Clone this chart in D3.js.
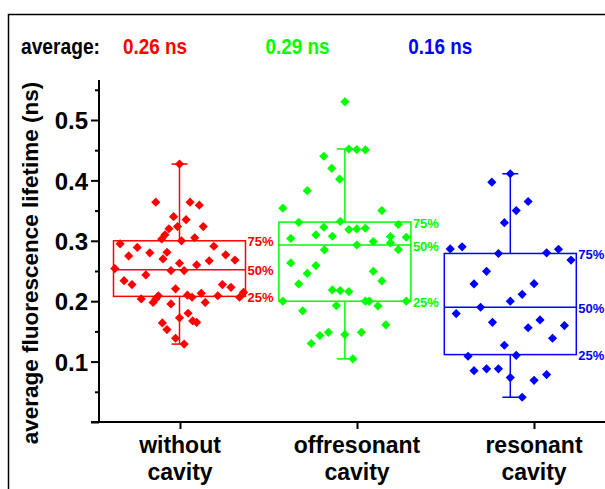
<!DOCTYPE html>
<meta charset="utf-8">
<style>
body { margin: 0; background: #fff; }
text { font-family: "Liberation Sans", Arial, sans-serif; font-weight: bold; }
</style>
<body>
<script src="https://d3js.org/d3.v7.min.js"></script>
<script>

// categories and summary values
var categories = ["without cavity", "offresonant cavity", "resonant cavity"];
var colors = ["#ff0000", "#00ff00", "#0000ff"];
var averages = ["0.26 ns", "0.29 ns", "0.16 ns"];
var q1 =     [0.208, 0.200, 0.1116];
var median = [0.252, 0.293, 0.190];
var q3 =     [0.300, 0.331, 0.279];
var wMin =   [0.129, 0.1045, 0.041];
var wMax =   [0.427, 0.452, 0.411];
var yTicks = [0.1, 0.2, 0.3, 0.4, 0.5];

// single measurements (ns) and their horizontal jitter (fraction of half box width)
var redVals = [0.427,0.364,0.364,0.359,0.340,0.335,0.3235,0.320,0.3235,0.310,0.303,0.305,0.300,0.295,0.289,0.291,
  0.275,0.280,0.281,0.270,0.2767,0.268,0.267,0.2628,0.260,0.254,0.2507,0.2507,0.234,0.2275,0.2435,0.2275,0.223,
  0.2204,0.2038,0.198,0.2038,0.209,0.1955,0.210,0.2065,0.213,0.198,0.209,0.2065,0.2147,0.180,0.1724,0.164,0.1674,
  0.165,0.153,0.1386,0.129];
var redJit = [0,-0.36,0.16,0.30,-0.09,0.10,-0.03,-0.16,0.36,-0.22,-0.27,0.23,0.03,-0.90,-0.64,0.52,
  -0.77,-0.45,-0.19,-0.25,0.70,0.84,0.45,0,0.26,-0.98,-0.13,0.07,-0.84,-0.72,-0.51,0.65,0.78,
  -0.06,-0.58,-0.40,-0.36,-0.32,-0.13,0.12,0.19,0.33,0.39,0.58,0.91,0.97,0.13,0,-0.26,0.20,
  0.26,-0.19,-0.06,0.07];

var greenVals = [0.530,0.452,0.451,0.4505,0.440,0.420,0.402,0.383,0.354,0.350,0.3306,0.332,0.327,0.3224,0.3185,
  0.3196,0.3207,0.304,0.3097,0.3075,0.2987,0.307,0.2965,0.3058,0.293,0.285,0.2854,0.2634,0.259,0.246,0.2286,0.2495,
  0.2336,0.2187,0.2175,0.2159,0.200,0.200,0.200,0.200,0.1927,0.1922,0.184,0.1608,0.1485,0.1485,0.143,0.1447,0.130,0.1045];
var greenJit = [0,0.06,0.18,0.31,-0.32,-0.20,-0.08,-0.57,-0.94,0.56,-0.70,-0.07,0.81,-0.32,0.06,
  0.18,0.31,-0.82,-0.44,-0.19,0.43,0.69,0.69,0.93,0.18,-0.31,0.81,-0.82,-0.44,-0.57,-0.70,0.43,
  0.56,-0.19,-0.07,0.06,-0.94,0.31,0.37,0.93,-0.13,0.50,-0.64,0.62,0.25,-0.25,-0.38,0,-0.51,0.12];

var blueVals = [0.411,0.397,0.365,0.350,0.330,0.2866,0.290,0.279,0.280,0.286,0.268,0.2495,0.2286,0.229,0.2114,
  0.200,0.190,0.1795,0.165,0.156,0.169,0.1596,0.1386,0.127,0.1088,0.1104,0.085,0.088,0.088,0.0735,0.069,0.0785,0.041];
var blueJit = [0,-0.28,0.27,0.09,-0.09,-0.91,-0.73,-0.18,0.55,0.73,0.92,-0.36,-0.55,0.36,0.18,
  0,-0.45,-0.82,-0.27,0.27,0.45,0.82,0.64,-0.09,-0.64,0.09,-0.55,-0.36,-0.18,0,0.36,0.55,0.18];

var pointVals = [redVals, greenVals, blueVals];
var pointJit = [redJit, greenJit, blueJit];

var width = 605, height = 489;
var boxHalf = 66;

var svg = d3.select("body").append("svg")
    .attr("width", width)
    .attr("height", height);

// outer frame (only top and left visible)
svg.append("path")
    .attr("d", "M8.5,489 V14.5 H605")
    .attr("fill", "none")
    .attr("stroke", "#000")
    .attr("stroke-width", 1.5);

// scales
var y = d3.scaleLinear().domain([0, 0.5662]).range([422, 80]);
var xTick = d3.scalePoint().domain(categories).range([180, 534]);
var xBox = d3.scalePoint().domain(categories).range([179.5, 510.3]);

// y axis: minor ticks then major ticks with labels
var yAxisG = svg.append("g").attr("transform", "translate(99,0)");
yAxisG.call(d3.axisLeft(y).tickValues(d3.range(0.05, 0.56, 0.1)).tickSize(4).tickFormat(""))
  .call(function(g) { g.select(".domain").remove(); });
var yMajor = svg.append("g").attr("transform", "translate(99,0)")
    .call(d3.axisLeft(y).tickValues([0].concat(yTicks)).tickSize(8).tickPadding(3)
      .tickFormat(function(d) { return d === 0 ? "" : d3.format(".1f")(d); }));
yMajor.select(".domain").remove();
yMajor.selectAll("text").attr("font-size", 24).attr("font-family", null).attr("dy", "0.36em");
svg.selectAll(".tick line").attr("stroke", "#000").attr("stroke-width", 2);

svg.append("line")
    .attr("x1", 99).attr("x2", 99)
    .attr("y1", y.range()[1]).attr("y2", y(0))
    .attr("stroke", "#000").attr("stroke-width", 2);

// x axis
svg.append("line")
    .attr("x1", 91).attr("x2", width)
    .attr("y1", y(0)).attr("y2", y(0))
    .attr("stroke", "#000").attr("stroke-width", 2);
var xAxisG = svg.append("g")
    .attr("transform", "translate(0," + y(0) + ")")
    .call(d3.axisBottom(xTick).tickSize(7).tickFormat(""));
xAxisG.select(".domain").remove();
xAxisG.selectAll(".tick line").attr("stroke", "#000").attr("stroke-width", 2);

categories.forEach(function(c) {
  var parts = c.split(" ");
  var t = svg.append("text")
      .attr("x", xTick(c))
      .attr("y", 453)
      .attr("text-anchor", "middle")
      .attr("font-size", 23);
  parts.forEach(function(p, i) {
    t.append("tspan").attr("x", xTick(c)).attr("dy", i ? 27 : 0).text(p);
  });
});

// y axis title
svg.append("text")
    .attr("transform", "translate(38,263) rotate(-90)")
    .attr("text-anchor", "middle")
    .attr("font-size", 22.5)
    .text("average fluorescence lifetime (ns)");

// averages row (condensed face in the original)
svg.append("text").attr("x", 21).attr("y", 54).attr("font-size", 21.5)
    .attr("textLength", 79).attr("lengthAdjust", "spacingAndGlyphs")
    .text("average:");
averages.forEach(function(a, i) {
  svg.append("text")
      .attr("x", 123 + i * 142.6)
      .attr("y", 54)
      .attr("font-size", 21.5)
      .attr("textLength", 64).attr("lengthAdjust", "spacingAndGlyphs")
      .attr("fill", colors[i])
      .text(a);
});

// boxes, whiskers, points
var diamond = d3.symbol().type(d3.symbolSquare).size(42);

categories.forEach(function(c, i) {
  var cx = xBox(c), col = colors[i];
  var g = svg.append("g");

  g.append("rect")
      .attr("x", cx - boxHalf).attr("y", y(q3[i]))
      .attr("width", boxHalf * 2).attr("height", y(q1[i]) - y(q3[i]))
      .attr("fill", "none").attr("stroke", col).attr("stroke-width", 1.5);
  g.append("line")
      .attr("x1", cx - boxHalf).attr("x2", cx + boxHalf)
      .attr("y1", y(median[i])).attr("y2", y(median[i]))
      .attr("stroke", col).attr("stroke-width", 1.5);
  // whiskers
  [[q3[i], wMax[i]], [q1[i], wMin[i]]].forEach(function(w) {
    g.append("line")
        .attr("x1", cx).attr("x2", cx)
        .attr("y1", y(w[0])).attr("y2", y(w[1]))
        .attr("stroke", col).attr("stroke-width", 1.5);
    g.append("line")
        .attr("x1", cx - 8).attr("x2", cx + 8)
        .attr("y1", y(w[1])).attr("y2", y(w[1]))
        .attr("stroke", col).attr("stroke-width", 1.5);
  });

  // percentile labels
  [[q3[i], "75%"], [median[i], "50%"], [q1[i], "25%"]].forEach(function(p) {
    g.append("text")
        .attr("x", cx + boxHalf + 2)
        .attr("y", y(p[0]) + 1)
        .attr("dy", "0.36em")
        .attr("font-size", 13)
        .attr("fill", col)
        .text(p[1]);
  });

  g.selectAll("path.pt")
      .data(pointVals[i])
    .enter().append("path")
      .attr("class", "pt")
      .attr("d", diamond)
      .attr("fill", col)
      .attr("transform", function(d, k) {
        return "translate(" + (cx + pointJit[i][k] * boxHalf) + "," + y(d) + ") rotate(45)";
      });
});

</script>
</body>
